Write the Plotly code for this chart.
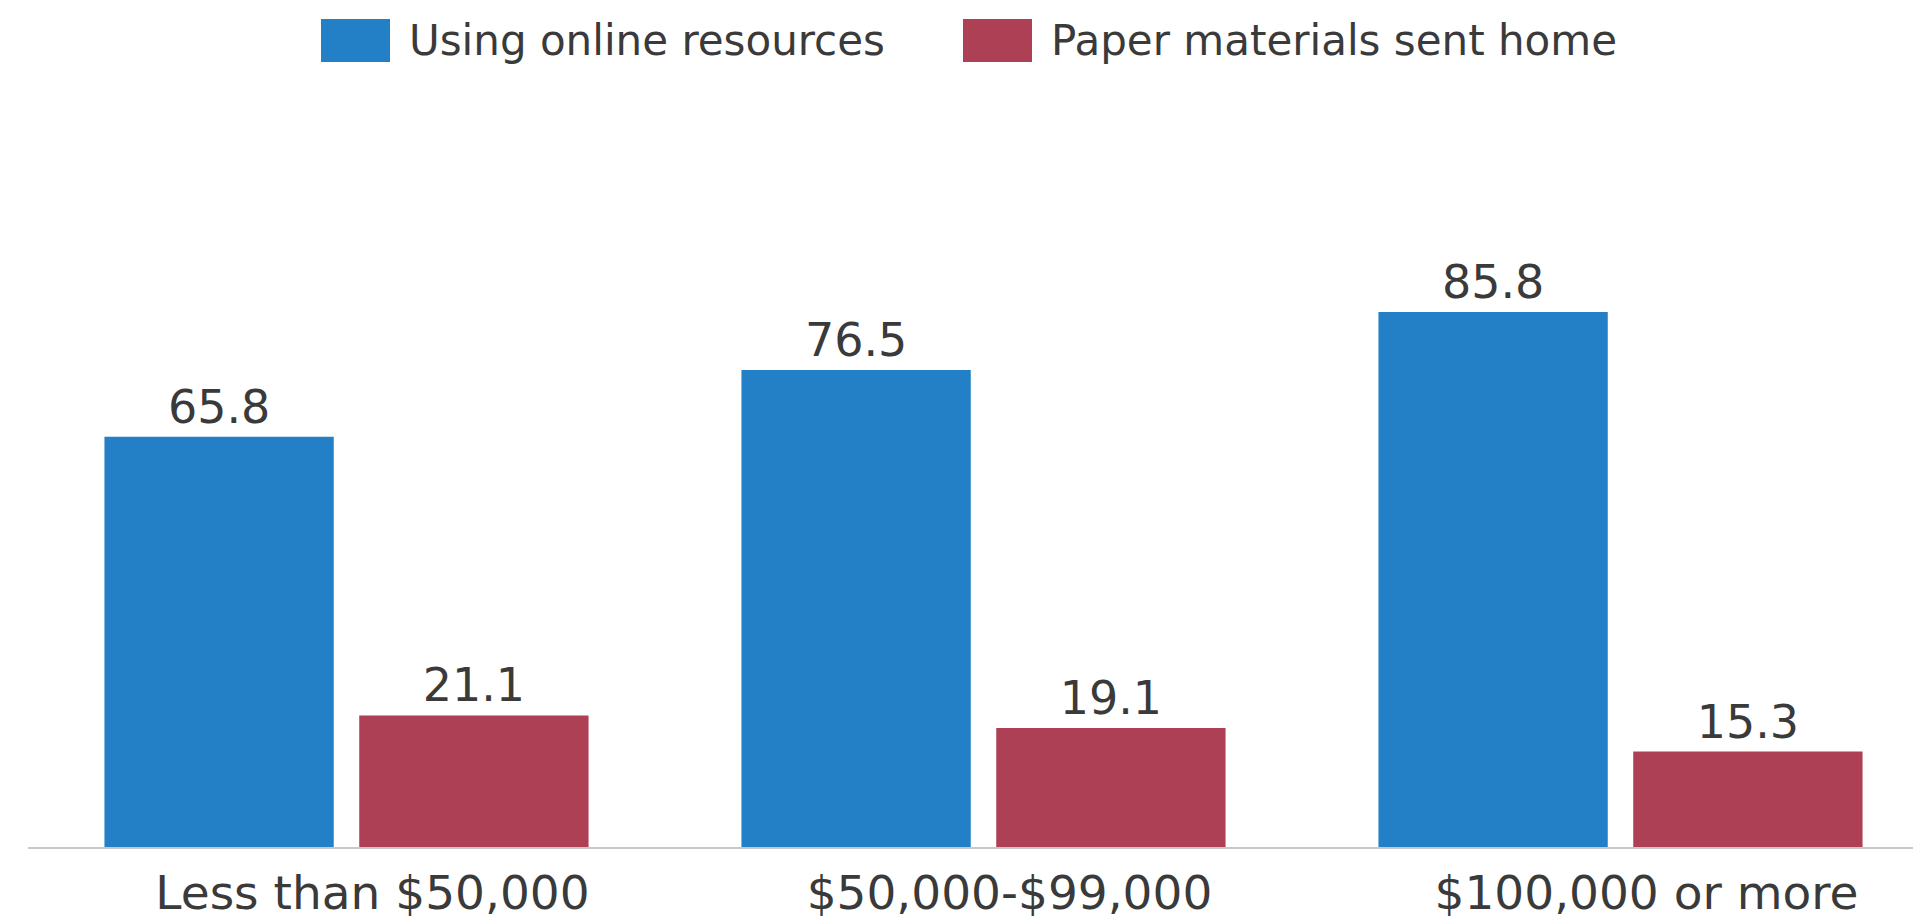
import plotly.graph_objects as go

categories = ["Less than $50,000", "$50,000-$99,000", "$100,000 or more"]
series_names = ["Using online resources", "Paper materials sent home"]
online_values = [65.8, 76.5, 85.8]
paper_values = [21.1, 19.1, 15.3]
colors = ["#2380C6", "#AD4055"]

FONT = "DejaVu Sans"
TEXT_COLOR = "#3a3a3a"

W, H = 1921, 918
ML, MR, MT, MB = 20, 0, 91, 79
plot_w = W - ML - MR
plot_h = H - MT - MB

fig = go.Figure()
for name, vals, col in zip(series_names, [online_values, paper_values], colors):
    fig.add_trace(go.Bar(
        x=categories, y=vals, name=name,
        marker=dict(color=col, line=dict(width=0)),
        text=[f"{v:.1f}" for v in vals],
        textposition="outside",
        textfont=dict(family=FONT, size=46, color=TEXT_COLOR),
        cliponaxis=False,
        showlegend=False,
    ))

# custom legend (large swatches as in the reference)
def px_to_paper_x(px):
    return (px - ML) / plot_w

def px_to_paper_y(py):
    return (H - MB - py) / plot_h

legend_items = [(313, 382, 399), (955, 1024, 1041)]
shapes = []
annotations = []
for (x0, x1, tx), name, col in zip(legend_items, series_names, colors):
    shapes.append(dict(type="rect", xref="paper", yref="paper",
                       x0=px_to_paper_x(x0), x1=px_to_paper_x(x1),
                       y0=px_to_paper_y(54), y1=px_to_paper_y(11),
                       fillcolor=col, line=dict(width=0)))
    annotations.append(dict(xref="paper", yref="paper",
                            x=px_to_paper_x(tx), y=px_to_paper_y(33),
                            xanchor="left", yanchor="middle", showarrow=False,
                            text=name,
                            font=dict(family=FONT, size=42, color=TEXT_COLOR)))

fig.update_layout(
    width=W, height=H,
    margin=dict(l=ML, r=MR, t=MT, b=MB, pad=0),
    paper_bgcolor="white", plot_bgcolor="white",
    barmode="group", bargap=0.20, bargroupgap=0.10,
    shapes=shapes, annotations=annotations,
    showlegend=False,
    xaxis=dict(
        range=[-0.5, -0.5 + plot_w / 637.0],
        showgrid=False, zeroline=False,
        showline=True, linecolor="#c8c8c8", linewidth=2,
        ticks="", ticklabelshift=26, ticklabelstandoff=4,
        tickfont=dict(family=FONT, size=47, color=TEXT_COLOR),
    ),
    yaxis=dict(
        range=[0, (H - MT - MB) / 6.235], visible=False, showgrid=False, zeroline=False,
    ),
)

fig.write_html("out.html")
